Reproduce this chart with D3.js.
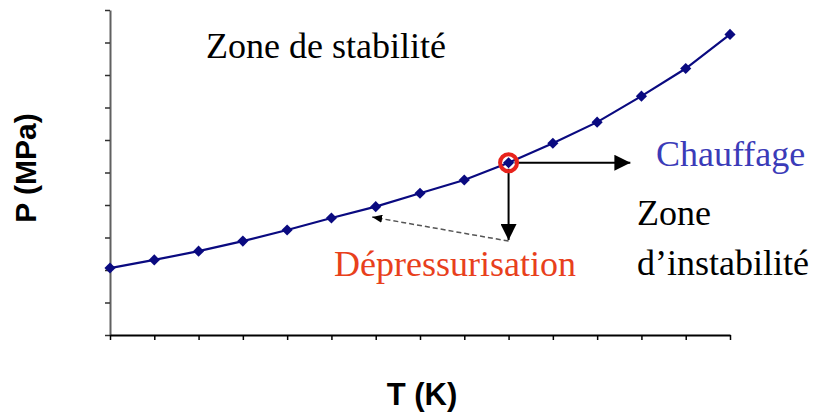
<!DOCTYPE html>
<html>
<head>
<meta charset="utf-8">
<script src="https://cdn.jsdelivr.net/npm/d3@7"></script>
<style>
  body { margin: 0; background: #fff; }
</style>
</head>
<body>
<svg id="chart" width="820" height="412"></svg>
<script>
/** chart data (axis units, no labels in the original) **/
var temperatureSteps = [0, 1, 2, 3, 4, 5, 6, 7, 8, 9, 10, 11, 12, 13, 14];
var pressureValues = [2.06, 2.31, 2.58, 2.89, 3.23, 3.6, 3.95, 4.36, 4.77, 5.3, 5.9, 6.55, 7.35, 8.2, 9.25];
var xTickValues = d3.range(0, 15);
var yTickValues = d3.range(0, 11);

/** annotation anchors, in data units **/
var criticalIndex = 9;
var heatingEndX = 11.75;
var depressEndY = 2.92;
var dashedEnd = [5.92, 3.63];

var serifFont = "'Liberation Serif', 'Times New Roman', 'DejaVu Serif', serif";
var sansFont = "'Liberation Sans', Arial, sans-serif";

var svg = d3.select("#chart");

var x = d3.scaleLinear().domain([0, 14]).range([110, 730]);
var y = d3.scaleLinear().domain([0, 10]).range([335, 10]);

/** arrow heads **/
var defs = svg.append("defs");
defs.append("marker").attr("id", "bigHead")
    .attr("markerUnits", "userSpaceOnUse")
    .attr("viewBox", "0 0 16 16").attr("refX", 16).attr("refY", 8)
    .attr("markerWidth", 16).attr("markerHeight", 16)
    .attr("orient", "auto")
    .append("path").attr("d", "M0,0L16,8L0,16Z").attr("fill", "#000");
defs.append("marker").attr("id", "smallHead")
    .attr("markerUnits", "userSpaceOnUse")
    .attr("viewBox", "0 0 10 8").attr("refX", 10).attr("refY", 4)
    .attr("markerWidth", 10).attr("markerHeight", 8)
    .attr("orient", "auto")
    .append("path").attr("d", "M0,0L10,4L0,8Z").attr("fill", "#000");

/** axes **/
svg.append("g")
    .attr("transform", "translate(" + x(0) + ",0)")
    .call(d3.axisLeft(y).tickValues(yTickValues).tickFormat("").tickSize(5).tickSizeOuter(0))
    .call(function (g) {
        g.select(".domain").attr("stroke", "#606060").attr("stroke-width", 2);
        g.selectAll(".tick line").attr("stroke", "#303030").attr("stroke-width", 1.5);
    });

svg.append("g")
    .attr("transform", "translate(0," + y(0) + ")")
    .call(d3.axisBottom(x).tickValues(xTickValues).tickFormat("").tickSize(5).tickSizeOuter(0))
    .call(function (g) {
        g.select(".domain").attr("stroke", "#000").attr("stroke-width", 2);
        g.selectAll(".tick line").attr("stroke", "#000").attr("stroke-width", 1.5);
    });

/** curve + markers **/
var points = temperatureSteps.map(function (t, i) { return [t, pressureValues[i]]; });

svg.append("path")
    .datum(points)
    .attr("fill", "none")
    .attr("stroke", "#0a0a80")
    .attr("stroke-width", 2.2)
    .attr("d", d3.line().x(function (d) { return x(d[0]); }).y(function (d) { return y(d[1]); }));

svg.selectAll(".pt")
    .data(points)
    .enter()
    .append("path")
    .attr("class", "pt")
    .attr("d", d3.symbol().type(d3.symbolSquare).size(62))
    .attr("fill", "#0a0a80")
    .attr("transform", function (d) { return "translate(" + x(d[0]) + "," + y(d[1]) + ") rotate(45)"; });

/** critical point and arrows **/
var cx = x(temperatureSteps[criticalIndex]);
var cy = y(pressureValues[criticalIndex]);

svg.append("line")
    .attr("x1", x(temperatureSteps[criticalIndex])).attr("y1", y(depressEndY) + 1)
    .attr("x2", x(dashedEnd[0])).attr("y2", y(dashedEnd[1]))
    .attr("stroke", "#555").attr("stroke-width", 1.5)
    .attr("stroke-dasharray", "5,3")
    .attr("marker-end", "url(#smallHead)");

svg.append("line")
    .attr("x1", cx + 6).attr("y1", cy)
    .attr("x2", x(heatingEndX)).attr("y2", cy)
    .attr("stroke", "#000").attr("stroke-width", 2)
    .attr("marker-end", "url(#bigHead)");

svg.append("line")
    .attr("x1", cx).attr("y1", cy + 6)
    .attr("x2", cx).attr("y2", y(depressEndY))
    .attr("stroke", "#000").attr("stroke-width", 2)
    .attr("marker-end", "url(#bigHead)");

svg.append("circle")
    .attr("cx", cx).attr("cy", cy).attr("r", 8.5)
    .attr("fill", "none").attr("stroke", "#e8231c").attr("stroke-width", 4);

svg.append("path")
    .attr("d", d3.symbol().type(d3.symbolSquare).size(40))
    .attr("fill", "#0a0a80")
    .attr("transform", "translate(" + cx + "," + cy + ") rotate(45)");

/** text labels **/
function label(txt, lx, ly, color) {
    svg.append("text").attr("x", lx).attr("y", ly)
        .attr("font-family", serifFont)
        .attr("font-size", 36)
        .attr("fill", color)
        .text(txt);
}
label("Zone de stabilité", 206, 58, "#000");
label("Chauffage", 656, 166, "#3b3bb8");
label("Zone", 637, 225, "#000");
label("d\u2019instabilité", 637, 275, "#000");
label("Dépressurisation", 334, 276, "#e8401c");

svg.append("text")
    .attr("transform", "translate(36,168) rotate(-90)")
    .attr("text-anchor", "middle")
    .attr("font-family", sansFont).attr("font-weight", 700)
    .attr("font-size", 30).text("P (MPa)");
svg.append("text")
    .attr("x", 422).attr("y", 405)
    .attr("text-anchor", "middle")
    .attr("font-family", sansFont).attr("font-weight", 700)
    .attr("font-size", 31).text("T (K)");
</script>
</body>
</html>
